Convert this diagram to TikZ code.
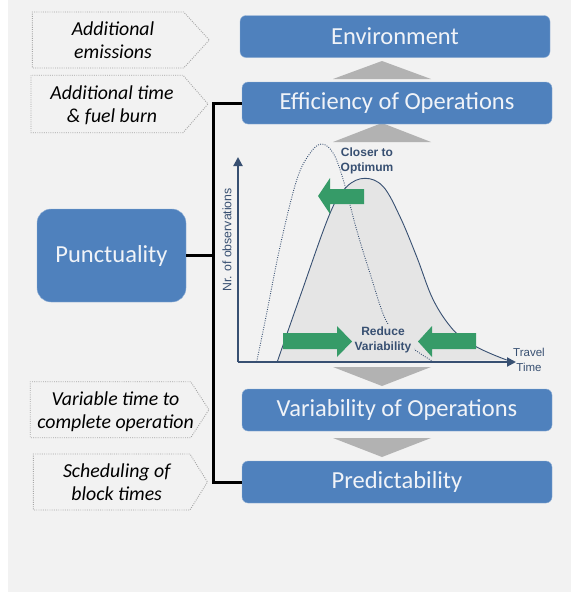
\documentclass[tikz,border=0pt]{standalone}
\usepackage{fontspec}
\setmainfont{Carlito}
\newfontfamily\chartfont{Liberation Sans}
\usetikzlibrary{calc, positioning}
\usetikzlibrary{arrows.meta}
\usetikzlibrary{shapes.symbols}

\definecolor{bggray}{RGB}{242,242,242}
\definecolor{opblue}{RGB}{79,129,189}
\definecolor{optext}{RGB}{240,243,248}
\definecolor{chevgray}{RGB}{178,178,178}
\definecolor{navy}{RGB}{56,80,114}
\definecolor{curvefill}{RGB}{229,229,229}
\definecolor{moveg}{RGB}{54,155,104}
\definecolor{notegray}{RGB}{165,165,165}

\newcommand{\notelines}[1]{\raisebox{-2.5pt}[\height][\depth]{\begin{tabular}{@{\hspace{5pt}}c@{\hspace{-5pt}}}#1\end{tabular}}}

\tikzset{
  opbox/.style={rounded corners=6pt, fill=opblue, draw=opblue!60!white, text=optext,
    minimum width=310pt, minimum height=42pt, inner sep=0pt,
    font=\fontsize{24.5}{29}\selectfont},
  note/.style={shape=signal, signal to=east, signal pointer angle=95,
    draw=notegray, line width=0.9pt, dash pattern=on 0.9pt off 1.3pt, fill=bggray,
    minimum width=177pt, minimum height=56pt, inner sep=2pt,
    font=\itshape\fontsize{19.8}{23.5}\selectfont},
  link/.style={line width=3pt},
  chev/.style={fill=chevgray},
  axis/.style={navy, line width=2pt, -{Triangle[length=9pt,width=9pt]}},
  chart/.style={text=navy, align=center, font=\chartfont\fontsize{11.5}{14.5}\selectfont},
  chartbold/.style={chart, font=\chartfont\bfseries\fontsize{12}{15}\selectfont},
}

\begin{document}
\begin{tikzpicture}[x=1pt, y=-1pt]
\useasboundingbox (0,0) rectangle (571,592);
\fill[bggray] (8,0) rectangle (571,592);

\fill[chev] (333,79) -- (382,61) -- (431,79) -- cycle;
\fill[chev] (333,142) -- (382,123) -- (431,142) -- cycle;
\fill[chev] (333,367) -- (431,367) -- (382,386) -- cycle;
\fill[chev] (333,438) -- (431,438) -- (382,457) -- cycle;

\node[opbox] (env) at (395,36.5) {Environment};
\node[opbox] (eff) at (397,103) {Efficiency of Operations};
\node[opbox] (var) at (397,410) {Variability of Operations};
\node[opbox] (pred) at (397,482) {Predictability};
\node[opbox, rounded corners=14pt, minimum width=149pt, minimum height=93pt] (punct) at (111.5,255.5) {Punctuality};

\node[note] (emis) at (108,40) {\notelines{Additional\\emissions}};
\node[note, signal pointer angle=98, minimum height=57.5pt] (fuel) at (107,104) {\notelines{Additional time\\\& fuel burn}};
\node[note, signal pointer angle=114] (vartime) at (110.5,409.7) {\notelines{Variable time to\\complete operation}};
\node[note, signal pointer angle=116, minimum width=174pt] (sched) at (111.7,482) {\notelines{Scheduling of\\block times}};

\coordinate (spine) at (213,0);
\draw[link] (eff.west) -- (eff.west -| spine) -- (pred.west -| spine) -- (pred.west);
\draw[link] (punct.east) -- (punct.east -| spine);

\fill[curvefill] plot[smooth, tension=0.6] coordinates {(277.3,361.7) (300,296.7) (330,213.3) (346.7,186.7) (365,178.3) (383.3,186.7) (400,216.7) (416.7,256.7) (433.3,300) (453.3,330) (473.3,345) (490,353.3) (506.7,360)} -- cycle;
\draw[navy, line width=0.9pt] plot[smooth, tension=0.6] coordinates {(277.3,361.7) (300,296.7) (330,213.3) (346.7,186.7) (365,178.3) (383.3,186.7) (400,216.7) (416.7,256.7) (433.3,300) (453.3,330) (473.3,345) (490,353.3) (506.7,360)};
\draw[navy, line width=0.9pt, dash pattern=on 0.9pt off 1.4pt] plot[smooth, tension=0.6] coordinates {(256.7,361.7) (266.7,313.3) (280,246.7) (296.7,180) (310,153.3) (321.7,144) (333.3,153.3) (343.3,180) (356.7,230) (370,273.3) (385,318.3) (400,338) (418,352) (433,361.5)};

\coordinate (origin) at (238,362);
\draw[axis] (origin) -- (238,157);
\draw[axis] (origin) -- (516,362);

\node[chart, rotate=90, font=\chartfont\fontsize{12.3}{15}\selectfont] (ylab) at (227,240) {Nr. of observations};
\node[chart] (travel) at (529,360) {Travel\\Time};
\node[chartbold] (closer) at (367,160.5) {Closer to\\Optimum};
\node[chartbold, fill=curvefill, inner sep=3pt] (reduce) at (383,340) {Reduce\\Variability};

\fill[moveg] (318,196) -- (330,178) -- (330,189) -- (364,189) -- (364,204) -- (330,204) -- (330,214) -- cycle;
\fill[moveg] (283,333) -- (337,333) -- (337,326) -- (352,341.5) -- (337,357) -- (337,349) -- (283,349) -- cycle;
\fill[moveg] (418,341.5) -- (432,326) -- (432,333) -- (476,333) -- (476,349) -- (432,349) -- (432,357) -- cycle;
\end{tikzpicture}
\end{document}
